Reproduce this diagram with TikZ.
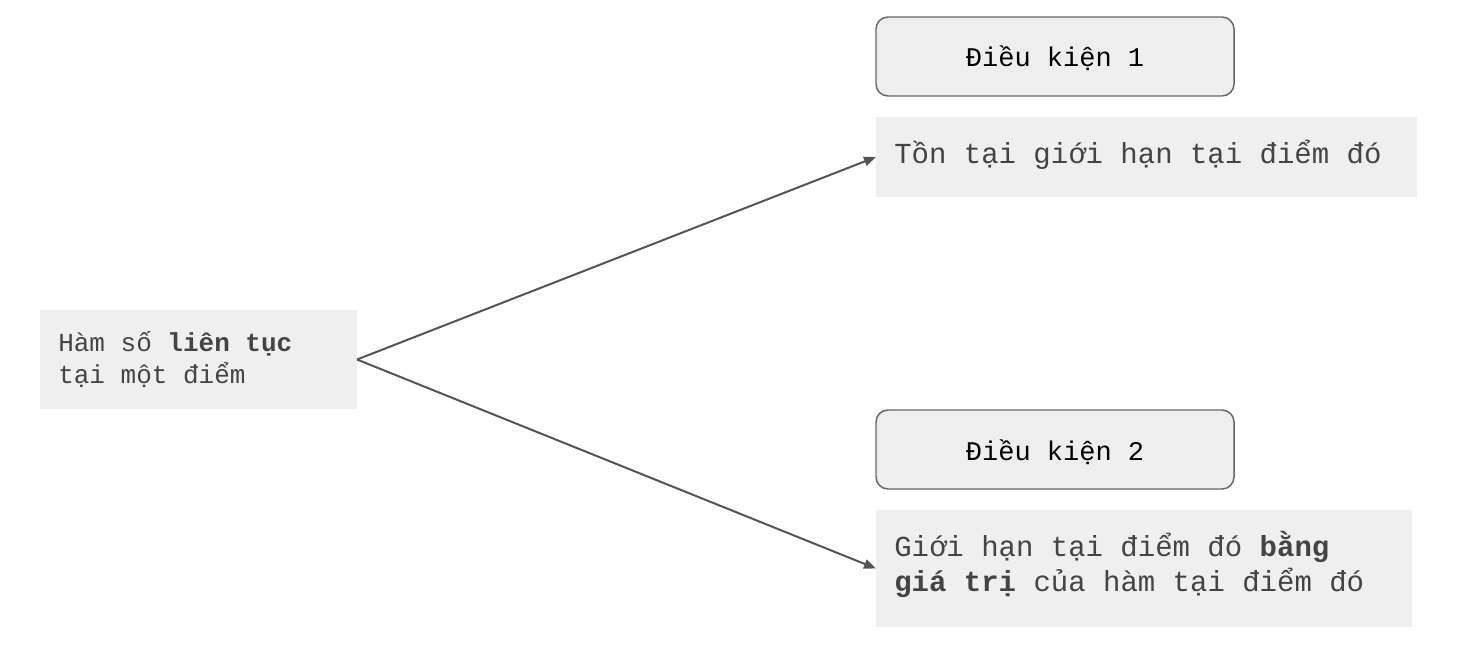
\documentclass[tikz,border=0pt]{standalone}
\usepackage{fontspec}
\setmonofont{Liberation Mono}
\usetikzlibrary{arrows.meta}
\definecolor{boxfill}{HTML}{EFEFEF}
\definecolor{condfill}{HTML}{EEEEEE}
\definecolor{txtgray}{HTML}{444444}
\definecolor{edgegray}{HTML}{666666}
\definecolor{arrgray}{HTML}{555555}
\begin{document}
\begin{tikzpicture}[x=0.75pt,y=-0.75pt,
  plainbox/.style={fill=boxfill, draw=none, anchor=north west, inner sep=0pt, outer sep=0pt},
  condbox/.style={fill=condfill, draw=edgegray, line width=1.1pt, rounded corners=9pt, anchor=north west, inner sep=0pt, outer sep=0pt},
  bodytxt/.style={anchor=base west, inner sep=0pt, text=txtgray, font=\ttfamily\fontsize{21.75pt}{26pt}\selectfont},
  lefttxt/.style={anchor=base west, inner sep=0pt, text=txtgray, font=\ttfamily\fontsize{19.5pt}{24pt}\selectfont},
  condtxt/.style={anchor=base, inner sep=0pt, text=black, font=\ttfamily\fontsize{20.25pt}{24pt}\selectfont},
  arr/.style={draw=arrgray, line width=1.5pt, -{Triangle[length=9pt,width=7pt]}}
]
\useasboundingbox (0,0) rectangle (1480,649);

% boxes
\node[plainbox, minimum width=317*0.75pt, minimum height=99*0.75pt] (left) at (40,310) {};
\node[condbox, minimum width=358*0.75pt, minimum height=79*0.75pt] (cond1) at (876,17) {};
\node[plainbox, minimum width=541*0.75pt, minimum height=80*0.75pt] (ton) at (876,117) {};
\node[condbox, minimum width=358*0.75pt, minimum height=79*0.75pt] (cond2) at (876,410) {};
\node[plainbox, minimum width=536*0.75pt, minimum height=117*0.75pt] (gioi) at (876,510) {};

% texts
\node[lefttxt] (l1) at (58,351) {Hàm số \textbf{liên tục}};
\node[lefttxt] (l2) at (58,383) {tại một điểm};
\node[condtxt] (c1) at (1055,67) {Điều kiện 1};
\node[condtxt] (c2) at (1055,460) {Điều kiện 2};
\node[bodytxt] (t1) at (894,163) {Tồn tại giới hạn tại điểm đó};
\node[bodytxt] (g1) at (894,556) {Giới hạn tại điểm đó \textbf{bằng}};
\node[bodytxt] (g2) at (894,591) {\textbf{giá trị} của hàm tại điểm đó};

% connectors
\draw[arr] (left.east) -- (ton.west);
\draw[arr] (left.east) -- (gioi.west);
\end{tikzpicture}
\end{document}
